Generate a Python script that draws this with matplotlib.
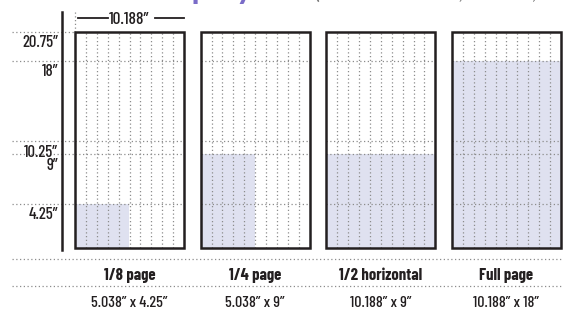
import matplotlib
matplotlib.use("Agg")
from matplotlib import pyplot as plt
from matplotlib.patches import Rectangle
from matplotlib.transforms import blended_transform_factory

# page / ad sizes in inches
page_w = 10.188
page_h = 20.75
names = ['1/8 page', '1/4 page', '1/2 horizontal', 'Full page']
ad_w = [5.038, 5.038, 10.188, 10.188]
ad_h = [4.25, 9, 9, 18]
size_labels = ['5.038\u201d x 4.25\u201d', '5.038\u201d x 9\u201d',
               '10.188\u201d x 9\u201d', '10.188\u201d x 18\u201d']
marks = [20.75, 18, 10.25, 9, 4.25]
mark_labels = ['20.75\u201d', '18\u201d', '10.25\u201d', '9\u201d', '4.25\u201d']
n_cols = 10
gap = 1.556

FW, FH = 564, 311
def fx(px):
    return px / FW
def fy(px):
    return 1 - px / FH

plt.rcParams['font.family'] = ['Barlow Condensed', 'DejaVu Sans']
frame_c = '#231f20'
dot_c = '#8c8c8c'
fill_c = '#dfe1f0'
dots = (0, (1, 2))

fig = plt.figure(figsize=(FW / 100, FH / 100), dpi=100)
ax = fig.add_axes([fx(75), fy(248), fx(561) - fx(75), fy(32) - fy(248)])
ax.set_xlim(0, 4 * page_w + 3 * gap)
ax.set_ylim(0, page_h)
ax.axis('off')

fig_x_data_y = blended_transform_factory(fig.transFigure, ax.transData)
data_x_fig_y = blended_transform_factory(ax.transData, fig.transFigure)

for i in range(len(names)):
    x0 = i * (page_w + gap)
    # filled ad area
    ax.add_patch(Rectangle((x0, 0), ad_w[i], ad_h[i], facecolor=fill_c,
                           edgecolor='none', zorder=1))
    # column grid
    for k in range(1, n_cols):
        xx = x0 + k * page_w / n_cols
        ax.plot([xx, xx], [0, page_h], color=dot_c, lw=0.9, ls=dots, zorder=2)
    for m in marks[1:]:
        ax.plot([x0, x0 + page_w], [m, m], color=dot_c, lw=0.9, ls=dots, zorder=2)
    ax.add_patch(Rectangle((x0, 0), page_w, page_h, facecolor='none',
                           edgecolor=frame_c, lw=1.8, zorder=3, clip_on=False))
    cx = x0 + page_w / 2
    ax.text(cx, fy(280), names[i], transform=data_x_fig_y, ha='center',
            va='baseline', fontsize=12, fontweight='bold', color=frame_c)
    ax.text(cx, fy(307), size_labels[i], transform=data_x_fig_y, ha='center',
            va='baseline', fontsize=11.5, fontweight='medium', color=frame_c)

# left scale: dotted guides and labels
for m, lab in zip(marks, mark_labels):
    ax.plot([fx(12), fx(75)], [m, m], transform=fig_x_data_y, color=dot_c,
            lw=0.9, ls=dots, clip_on=False)
    ax.annotate(lab, xy=(fx(58), m), xycoords=fig_x_data_y, xytext=(0, -11),
                textcoords='offset points', ha='right', va='baseline',
                fontsize=12, fontweight='medium', color=frame_c)

# vertical black axis line
ax.plot([fx(62), fx(62)], [fy(250), fy(12)], transform=fig.transFigure,
        color=frame_c, lw=1.8, clip_on=False)

# width dimension above first page
ax.plot([0, 0], [page_h, page_h + 1.9], color=dot_c, lw=0.9, ls=dots, clip_on=False)
dim_y = page_h + 1.3
ax.plot([0.03 * page_w, 0.3 * page_w], [dim_y, dim_y], color=frame_c, lw=1.3, clip_on=False)
ax.plot([0.73 * page_w, page_w], [dim_y, dim_y], color=frame_c, lw=1.3, clip_on=False)
ax.text(page_w / 2, dim_y, '10.188\u201d', ha='center', va='center_baseline',
        fontsize=12.5, fontweight='medium', color=frame_c, clip_on=False)

# bottom dotted rules
for yy in [259, 286]:
    fig.add_artist(plt.Line2D([fx(12), fx(561)], [fy(yy), fy(yy)],
                              color=dot_c, lw=0.9, ls=dots))

# title (cropped at the top of the image, only descenders show)
fig.text(fx(143), fy(-1), 'Display', color='#7a6cc8', fontsize=24,
         fontweight='bold', va='baseline', family=['Lato', 'DejaVu Sans'])
fig.text(fx(314), fy(-1), '(sizes in inches, W x H, at 100% scale)', color='#777777',
         fontsize=16, va='baseline', family=['Lato', 'DejaVu Sans'])

fig.savefig('out.png', dpi=100)
